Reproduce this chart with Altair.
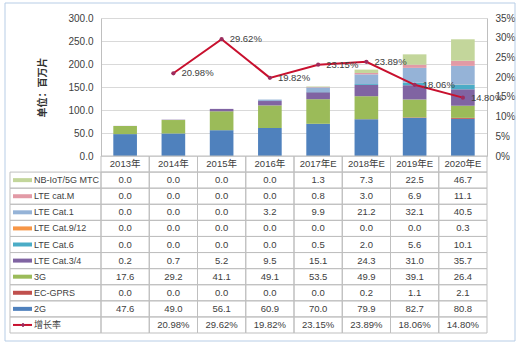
import altair as alt
import pandas as pd

# ---------------- data ----------------
years = ["2013年", "2014年", "2015年", "2016年", "2017年E", "2018年E", "2019年E", "2020年E"]

# stacked from bottom to top
series_names = ["2G", "EC-GPRS", "3G", "LTE Cat.3/4", "LTE Cat.6", "LTE Cat.9/12",
                "LTE Cat.1", "LTE cat.M", "NB-IoT/5G MTC"]
v_2g = [47.6, 49.0, 56.1, 60.9, 70.0, 79.9, 82.7, 80.8]
v_ecgprs = [0.0, 0.0, 0.0, 0.0, 0.0, 0.2, 1.1, 2.1]
v_3g = [17.6, 29.2, 41.1, 49.1, 53.5, 49.9, 39.1, 26.4]
v_cat34 = [0.2, 0.7, 5.2, 9.5, 15.1, 24.3, 31.0, 35.7]
v_cat6 = [0.0, 0.0, 0.0, 0.0, 0.5, 2.0, 5.6, 10.1]
v_cat912 = [0.0, 0.0, 0.0, 0.0, 0.0, 0.0, 0.0, 0.3]
v_cat1 = [0.0, 0.0, 0.0, 3.2, 9.9, 21.2, 32.1, 40.5]
v_catm = [0.0, 0.0, 0.0, 0.0, 0.8, 3.0, 6.9, 11.1]
v_nbiot = [0.0, 0.0, 0.0, 0.0, 1.3, 7.3, 22.5, 46.7]
growth = [None, 0.2098, 0.2962, 0.1982, 0.2315, 0.2389, 0.1806, 0.1480]
growth_name = "增长率"

colors = ["#4f81bd", "#c0504d", "#9bbb59", "#8064a2", "#4bacc6", "#f79646",
          "#95b3d7", "#e29aa6", "#c3d69b"]

values = [v_2g, v_ecgprs, v_3g, v_cat34, v_cat6, v_cat912, v_cat1, v_catm, v_nbiot]

# ---------------- layout constants ----------------
LEFT, TOP, W, H = 101, 18, 386, 315
PLOT_H = 138
FONT = "Liberation Sans, Noto Sans CJK SC"
NARROW = "Liberation Sans Narrow, Arial Narrow, Liberation Sans, Noto Sans CJK SC"
TXT = "#404040"
GRID = "#d9d9d9"
LINE_C = "#bfbfbf"

# ---------------- tables ----------------
bar_rows = []
for i, (name, vals) in enumerate(zip(series_names, values)):
    for y, v in zip(years, vals):
        bar_rows.append({"year": y, "series": name, "value": v, "idx": i})
bar_df = pd.DataFrame(bar_rows)

growth_df = pd.DataFrame([{"year": y, "g": g} for y, g in zip(years, growth) if g is not None])

table_series = list(reversed(series_names))
rows = ["hdr"] + table_series + [growth_name]

cell_rows = []
for r in rows:
    for j, y in enumerate(years):
        if r == "hdr":
            t = y
        elif r == growth_name:
            t = "" if growth[j] is None else f"{growth[j] * 100:.2f}%"
        else:
            t = f"{values[series_names.index(r)][j]:.1f}"
        cell_rows.append({"row": r, "year": y, "text": t})
cell_df = pd.DataFrame(cell_rows)

legend_df = pd.DataFrame({"row": table_series + [growth_name]})
swatch_df = pd.DataFrame({"row": table_series, "series": table_series})
gswatch_df = pd.DataFrame({"row": [growth_name]})

# ---------------- encodings ----------------
xs = alt.Scale(type="band", domain=years, paddingInner=0, paddingOuter=0)


def xenc():
    return alt.X("year:N", scale=xs, axis=None)


row_scale = alt.Scale(type="band", domain=rows, range=[PLOT_H, H], paddingInner=0, paddingOuter=0)


def yrow():
    return alt.Y("row:N", scale=row_scale, axis=None)


color_scale = alt.Scale(domain=series_names, range=colors)

bars = alt.Chart(bar_df).mark_bar(width=alt.RelativeBandSize(0.49)).encode(
    x=xenc(),
    y=alt.Y("value:Q", stack="zero",
            scale=alt.Scale(domain=[0, 300], range=[PLOT_H, 0], nice=False),
            axis=alt.Axis(values=[0, 50, 100, 150, 200, 250, 300], format=".1f",
                          labelFont=FONT, labelFontSize=10, labelColor=TXT,
                          labelPadding=8, ticks=False, domainColor=LINE_C,
                          gridColor=GRID, title="单位：百万片",
                          titleFont="Noto Sans CJK SC", titleFontSize=10,
                          titleFontWeight="bold", titleColor="#333333",
                          titleAngle=270, titleAlign="center", titleBaseline="middle",
                          titleX=-59, titleY=69)),
    color=alt.Color("series:N", scale=color_scale, legend=None),
    order=alt.Order("idx:Q", sort="ascending"),
)

pct_y = alt.Y("g:Q", scale=alt.Scale(domain=[0, 0.35], range=[PLOT_H, 0], nice=False),
              axis=alt.Axis(orient="right", values=[0, 0.05, 0.1, 0.15, 0.2, 0.25, 0.3, 0.35],
                            format=".0%", labelFont=FONT, labelFontSize=10, labelColor=TXT,
                            labelPadding=8, ticks=False, grid=False, domainColor=LINE_C,
                            title=None))

gbase = alt.Chart(growth_df).encode(x=xenc(), y=pct_y)
gline = gbase.mark_line(color="#c8102e", strokeWidth=2)
gpts = gbase.mark_point(filled=True, size=18, color="#9c2c5e", opacity=1)
glabels = gbase.mark_text(align="left", baseline="middle", dx=8, font=FONT,
                          fontSize=9.5, color=TXT).encode(text=alt.Text("g:Q", format=".2%"))
pct_layer = alt.layer(gline, gpts, glabels)

cells = alt.Chart(cell_df).mark_rect(fill="transparent", stroke=LINE_C, strokeWidth=1).encode(
    x=xenc(), y=yrow())
cell_text = alt.Chart(cell_df).mark_text(font=FONT, fontSize=9.5, color=TXT).encode(
    x=xenc(), y=yrow(), text="text:N")
leg_cells = alt.Chart(legend_df).mark_rect(fill="transparent", stroke=LINE_C, strokeWidth=1).encode(
    x=alt.value(10 - LEFT), x2=alt.value(0), y=yrow())
swatches = alt.Chart(swatch_df).mark_rule(strokeWidth=4).encode(
    x=alt.value(13 - LEFT), x2=alt.value(32 - LEFT), y=yrow(),
    color=alt.Color("series:N", scale=color_scale, legend=None))
gsw = alt.Chart(gswatch_df).mark_rule(strokeWidth=2, color="#c8102e").encode(
    x=alt.value(13 - LEFT), x2=alt.value(32 - LEFT), y=yrow())
gsw_pt = alt.Chart(gswatch_df).mark_point(shape="cross", filled=True, size=16, color="#9c2c5e",
                                          opacity=1).encode(x=alt.value(23 - LEFT), y=yrow())
leg_text = alt.Chart(legend_df).mark_text(align="left", font=NARROW, fontSize=9, color=TXT).encode(
    x=alt.value(34 - LEFT), y=yrow(), text="row:N")
table_layer = alt.layer(cells, cell_text, leg_cells, swatches, gsw, gsw_pt, leg_text)

frame = alt.Chart(pd.DataFrame({"k": [0]})).mark_rect(
    fill="transparent", stroke="#b7cde6", strokeWidth=1).encode(
    x=alt.value(5 - LEFT), x2=alt.value(515 - LEFT), y=alt.value(3 - TOP), y2=alt.value(341 - TOP))

chart = alt.layer(bars, pct_layer, table_layer, frame).resolve_scale(
    y="independent"
).properties(
    width=W, height=H,
    autosize=alt.AutoSizeParams(type="none"),
    padding={"left": LEFT, "top": TOP, "right": 524 - LEFT - W, "bottom": 349 - TOP - H},
    background="white",
).configure_view(strokeWidth=0)

chart.save("out.html", embed_options={"renderer": "svg", "actions": False})
